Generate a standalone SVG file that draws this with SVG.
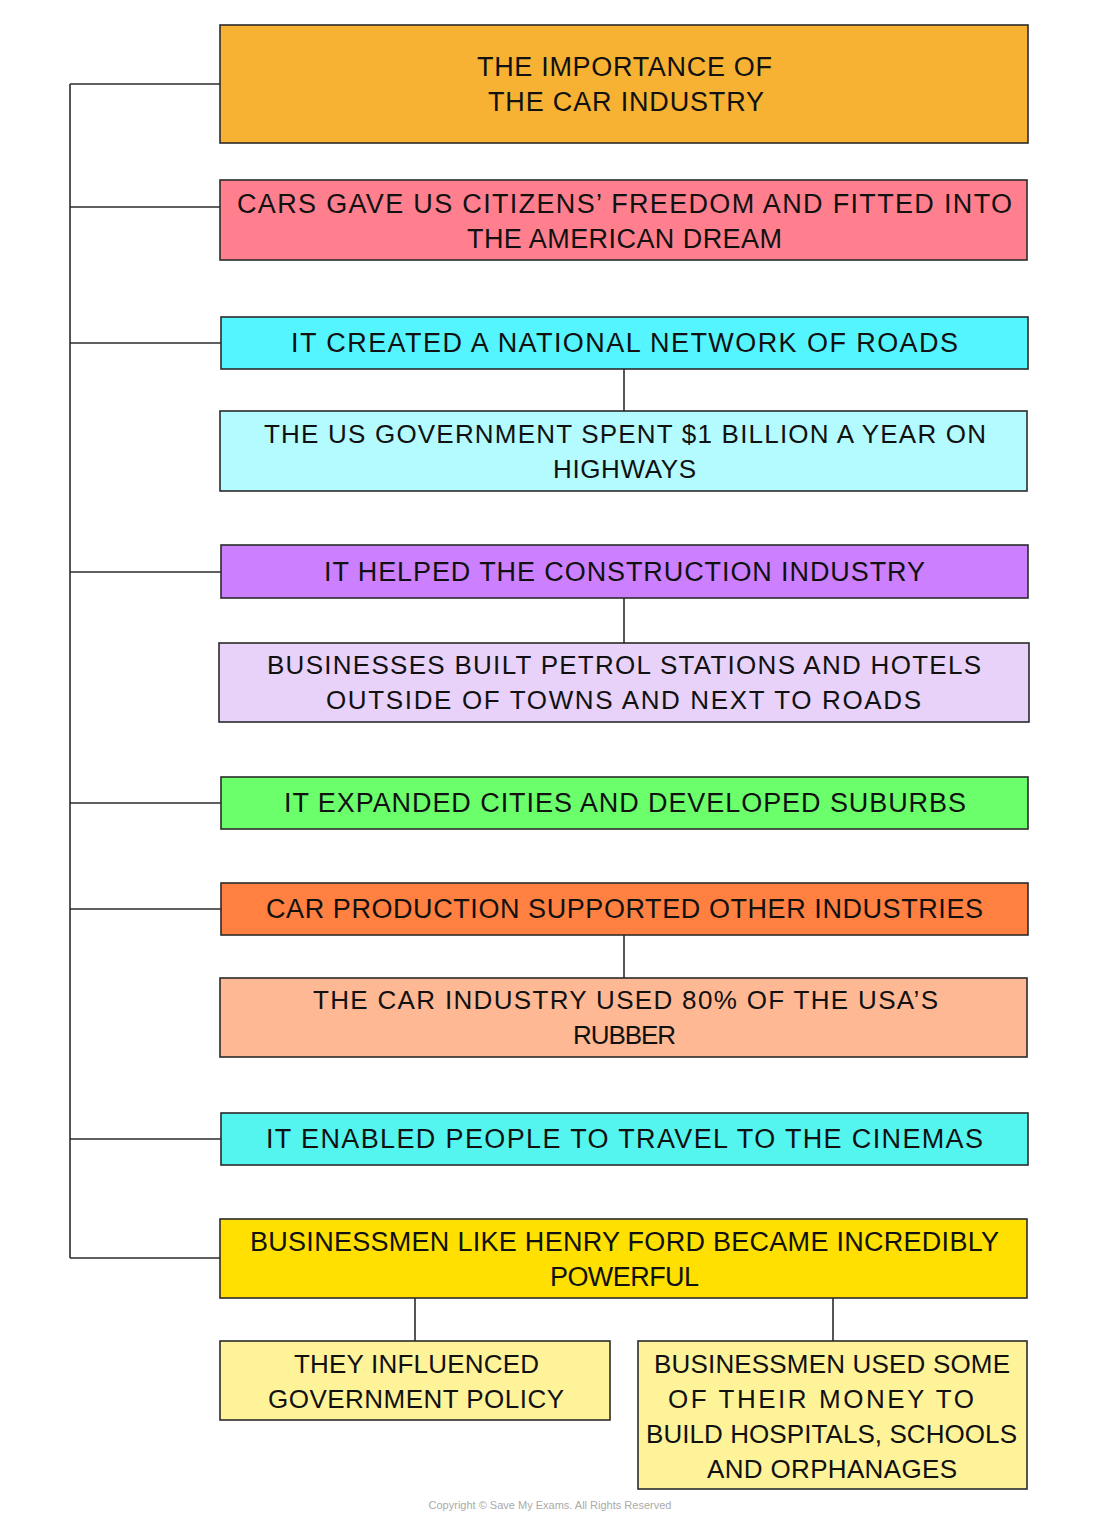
<svg xmlns="http://www.w3.org/2000/svg" width="1100" height="1520" viewBox="0 0 1100 1520">
<style>
rect{stroke:#2b2b2b;stroke-width:1.6}
.c line{stroke:#2b2b2b;stroke-width:1.6;fill:none}
text{font-family:"Liberation Sans","DejaVu Sans",sans-serif;font-size:27px;fill:#111;text-anchor:start}
.h{font-weight:normal}
.d{font-size:26px}
.cp{font-size:11px;fill:#aaa;text-anchor:middle}
</style>
<rect width="1100" height="1520" fill="#fff" style="stroke:none"/>
<g class="c" id="connectors">
<line x1="70" y1="84" x2="70" y2="1258"/>
<line x1="70" y1="84" x2="220" y2="84"/>
<line x1="70" y1="207" x2="220" y2="207"/>
<line x1="70" y1="343" x2="221" y2="343"/>
<line x1="70" y1="572" x2="221" y2="572"/>
<line x1="70" y1="803" x2="221" y2="803"/>
<line x1="70" y1="909" x2="221" y2="909"/>
<line x1="70" y1="1139" x2="221" y2="1139"/>
<line x1="70" y1="1258" x2="220" y2="1258"/>
<line x1="624" y1="369" x2="624" y2="411"/>
<line x1="624" y1="598" x2="624" y2="643"/>
<line x1="624" y1="935" x2="624" y2="978"/>
<line x1="415" y1="1298" x2="415" y2="1341"/>
<line x1="833" y1="1298" x2="833" y2="1341"/>
</g>
<g id="n1"><rect x="220" y="25" width="808" height="118" fill="#F7B233"/>
<text x="477" y="76" textLength="295" lengthAdjust="spacing">THE IMPORTANCE OF</text>
<text x="488" y="111" textLength="276" lengthAdjust="spacing">THE CAR INDUSTRY</text></g>
<g id="n2"><rect x="220" y="180" width="807" height="80" fill="#FF7F8E"/>
<text x="237" y="213" textLength="775" lengthAdjust="spacing">CARS GAVE US CITIZENS’ FREEDOM AND FITTED INTO</text>
<text x="467" y="248" textLength="315" lengthAdjust="spacing">THE AMERICAN DREAM</text></g>
<g id="n3"><rect x="221" y="317" width="807" height="52" fill="#55F5FF"/>
<text x="291" y="352" textLength="667" lengthAdjust="spacing">IT CREATED A NATIONAL NETWORK OF ROADS</text></g>
<g id="n4"><rect x="220" y="411" width="807" height="80" fill="#B3FBFF"/>
<text class="d" x="264" y="443" textLength="722" lengthAdjust="spacing">THE US GOVERNMENT SPENT $1 BILLION A YEAR ON</text>
<text class="d" x="553" y="478" textLength="143" lengthAdjust="spacing">HIGHWAYS</text></g>
<g id="n5"><rect x="221" y="545" width="807" height="53" fill="#CC80FF"/>
<text x="324" y="581" textLength="601" lengthAdjust="spacing">IT HELPED THE CONSTRUCTION INDUSTRY</text></g>
<g id="n6"><rect x="219" y="643" width="810" height="79" fill="#E8D2FA"/>
<text class="d" x="267" y="674" textLength="714" lengthAdjust="spacing">BUSINESSES BUILT PETROL STATIONS AND HOTELS</text>
<text class="d" x="326" y="709" textLength="595" lengthAdjust="spacing">OUTSIDE OF TOWNS AND NEXT TO ROADS</text></g>
<g id="n7"><rect x="221" y="777" width="807" height="52" fill="#6BFF6B"/>
<text x="284" y="812" textLength="682" lengthAdjust="spacing">IT EXPANDED CITIES AND DEVELOPED SUBURBS</text></g>
<g id="n8"><rect x="221" y="883" width="807" height="52" fill="#FF8040"/>
<text x="266" y="918" textLength="717" lengthAdjust="spacing">CAR PRODUCTION SUPPORTED OTHER INDUSTRIES</text></g>
<g id="n9"><rect x="220" y="978" width="807" height="79" fill="#FFB894"/>
<text class="d" x="313" y="1009" textLength="625" lengthAdjust="spacing">THE CAR INDUSTRY USED 80% OF THE USA’S</text>
<text class="d" x="573" y="1044" textLength="103" lengthAdjust="spacing">RUBBER</text></g>
<g id="n10"><rect x="221" y="1113" width="807" height="52" fill="#55F5EF"/>
<text x="266" y="1148" textLength="717" lengthAdjust="spacing">IT ENABLED PEOPLE TO TRAVEL TO THE CINEMAS</text></g>
<g id="n11"><rect x="220" y="1219" width="807" height="79" fill="#FFE000"/>
<text x="250" y="1251" textLength="749" lengthAdjust="spacing">BUSINESSMEN LIKE HENRY FORD BECAME INCREDIBLY</text>
<text x="550" y="1286" textLength="149" lengthAdjust="spacing">POWERFUL</text></g>
<g id="n12"><rect x="220" y="1341" width="390" height="79" fill="#FFF39A"/>
<text class="d" x="294" y="1373" textLength="245" lengthAdjust="spacing">THEY INFLUENCED</text>
<text class="d" x="268" y="1408" textLength="296" lengthAdjust="spacing">GOVERNMENT POLICY</text></g>
<g id="n13"><rect x="638" y="1341" width="389" height="148" fill="#FFF39A"/>
<text class="d" x="654" y="1373" textLength="356" lengthAdjust="spacing">BUSINESSMEN USED SOME</text>
<text class="d" x="668" y="1408" textLength="306" lengthAdjust="spacing">OF THEIR MONEY TO</text>
<text class="d" x="646" y="1443" textLength="371" lengthAdjust="spacing">BUILD HOSPITALS, SCHOOLS</text>
<text class="d" x="707" y="1478" textLength="250" lengthAdjust="spacing">AND ORPHANAGES</text></g>
<text class="cp" x="550" y="1509">Copyright © Save My Exams. All Rights Reserved</text>
</svg>
